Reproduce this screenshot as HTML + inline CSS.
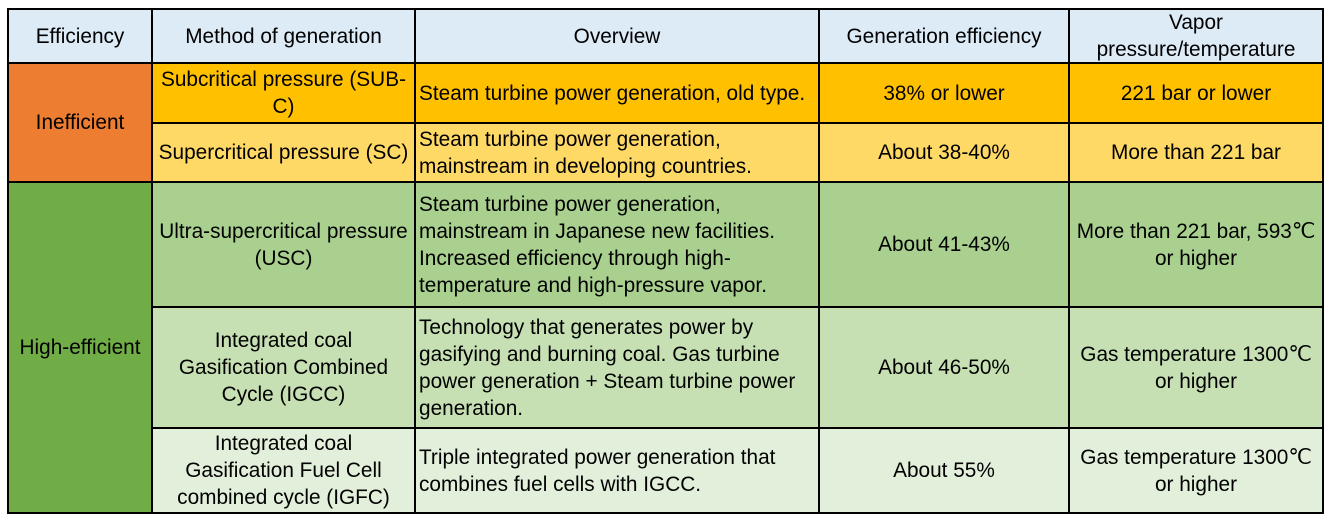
<!DOCTYPE html>
<html><head><style>
body{margin:0;width:1328px;height:523px;background:#fff;font-family:"Liberation Sans",Arial,sans-serif;font-size:20.8px;color:#000;position:relative;overflow:hidden}
.c{position:absolute;box-sizing:border-box;border:2px solid #000;display:flex;align-items:center;justify-content:center;text-align:center;line-height:27px;padding:0 1px;white-space:nowrap}
.l{justify-content:flex-start;text-align:left;padding-left:3px}
</style></head><body>
<div class="c" style="left:7px;top:8px;width:146px;height:56px;background:#DDEBF7">Efficiency</div>
<div class="c" style="left:151px;top:8px;width:265px;height:56px;background:#DDEBF7">Method of generation</div>
<div class="c" style="left:414px;top:8px;width:406px;height:56px;background:#DDEBF7">Overview</div>
<div class="c" style="left:818px;top:8px;width:252px;height:56px;background:#DDEBF7">Generation efficiency</div>
<div class="c" style="left:1068px;top:8px;width:256px;height:56px;background:#DDEBF7">Vapor<br>pressure/temperature</div>

<div class="c" style="left:7px;top:62px;width:146px;height:121px;background:#ED7D31">Inefficient</div>
<div class="c" style="left:151px;top:62px;width:265px;height:62px;background:#FFC000">Subcritical pressure (SUB-<br>C)</div>
<div class="c l" style="left:414px;top:62px;width:406px;height:62px;background:#FFC000">Steam turbine power generation, old type.</div>
<div class="c" style="left:818px;top:62px;width:252px;height:62px;background:#FFC000">38% or lower</div>
<div class="c" style="left:1068px;top:62px;width:256px;height:62px;background:#FFC000">221 bar or lower</div>

<div class="c" style="left:151px;top:122px;width:265px;height:61px;background:#FFD966">Supercritical pressure (SC)</div>
<div class="c l" style="left:414px;top:122px;width:406px;height:61px;background:#FFD966">Steam turbine power generation,<br>mainstream in developing countries.</div>
<div class="c" style="left:818px;top:122px;width:252px;height:61px;background:#FFD966">About 38-40%</div>
<div class="c" style="left:1068px;top:122px;width:256px;height:61px;background:#FFD966">More than 221 bar</div>

<div class="c" style="left:7px;top:181px;width:146px;height:333px;background:#70AD47">High-efficient</div>
<div class="c" style="left:151px;top:181px;width:265px;height:127px;background:#A9D08E">Ultra-supercritical pressure<br>(USC)</div>
<div class="c l" style="left:414px;top:181px;width:406px;height:127px;background:#A9D08E">Steam turbine power generation,<br>mainstream in Japanese new facilities.<br>Increased efficiency through high-<br>temperature and high-pressure vapor.</div>
<div class="c" style="left:818px;top:181px;width:252px;height:127px;background:#A9D08E">About 41-43%</div>
<div class="c" style="left:1068px;top:181px;width:256px;height:127px;background:#A9D08E">More than 221 bar, 593℃<br>or higher</div>

<div class="c" style="left:151px;top:306px;width:265px;height:123px;background:#C6E0B4">Integrated coal<br>Gasification Combined<br>Cycle (IGCC)</div>
<div class="c l" style="left:414px;top:306px;width:406px;height:123px;background:#C6E0B4">Technology that generates power by<br>gasifying and burning coal. Gas turbine<br>power generation + Steam turbine power<br>generation.</div>
<div class="c" style="left:818px;top:306px;width:252px;height:123px;background:#C6E0B4">About 46-50%</div>
<div class="c" style="left:1068px;top:306px;width:256px;height:123px;background:#C6E0B4">Gas temperature 1300℃<br>or higher</div>

<div class="c" style="left:151px;top:427px;width:265px;height:87px;background:#E2EFDA">Integrated coal<br>Gasification Fuel Cell<br>combined cycle (IGFC)</div>
<div class="c l" style="left:414px;top:427px;width:406px;height:87px;background:#E2EFDA">Triple integrated power generation that<br>combines fuel cells with IGCC.</div>
<div class="c" style="left:818px;top:427px;width:252px;height:87px;background:#E2EFDA">About 55%</div>
<div class="c" style="left:1068px;top:427px;width:256px;height:87px;background:#E2EFDA">Gas temperature 1300℃<br>or higher</div>
</body></html>
